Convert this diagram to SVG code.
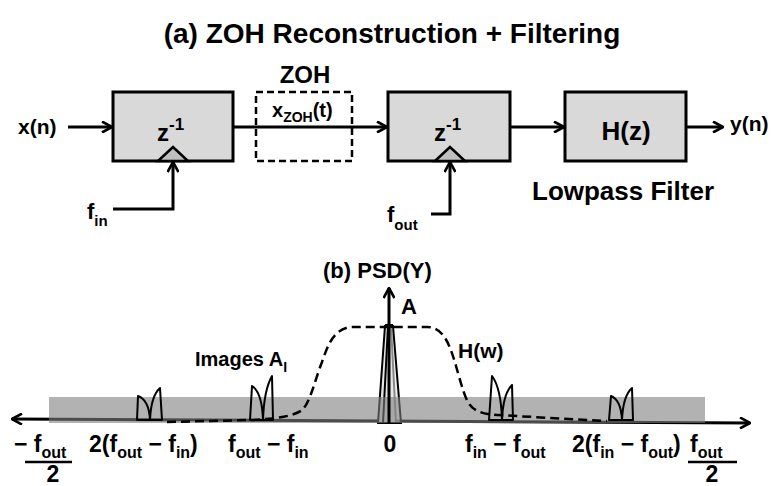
<svg xmlns="http://www.w3.org/2000/svg" width="771" height="486" viewBox="0 0 771 486">
<defs>
<style>
text{font-family:"Liberation Sans",Arial,sans-serif;font-weight:bold;fill:#000}
.blk{fill:#d9d9d9;stroke:#000;stroke-width:3}
.clk{fill:#bfbfbf;stroke:#000;stroke-width:2.5;stroke-linejoin:miter}
.wire{fill:none;stroke:#000;stroke-width:3}
.img{fill:none;stroke:#000;stroke-width:2;stroke-linejoin:round}
</style>
<marker id="arr" viewBox="0 0 12 12" refX="11" refY="6" markerWidth="12" markerHeight="12" markerUnits="userSpaceOnUse" orient="auto-start-reverse">
<path d="M1,0.5 L11,6 L1,11.5" fill="none" stroke="#000" stroke-width="2.6"/>
</marker>
</defs>
<rect width="771" height="486" fill="#fff"/>
<text x="392" y="43" text-anchor="middle" font-size="28">(a) ZOH Reconstruction + Filtering</text>

<g id="delay1">
<rect class="blk" x="113" y="92" width="120" height="69"/>
<polygon class="clk" points="158,161 173,147 188,161"/>
<text x="157" y="141" font-size="24">z<tspan dy="-11" font-size="17">-1</tspan></text>
</g>
<g id="zoh">
<text x="305" y="83" text-anchor="middle" font-size="24">ZOH</text>
<rect x="256" y="92" width="96" height="69" fill="none" stroke="#000" stroke-width="2.5" stroke-dasharray="7,4"/>
<text x="272" y="117" font-size="20">x<tspan dy="5" font-size="14">ZOH</tspan><tspan dy="-5">(t)</tspan></text>
</g>
<g id="delay2">
<rect class="blk" x="388" y="92" width="122" height="69"/>
<polygon class="clk" points="435,161 450,147 465,161"/>
<text x="434" y="141" font-size="24">z<tspan dy="-11" font-size="17">-1</tspan></text>
</g>
<g id="filter">
<rect class="blk" x="565" y="92" width="121" height="69"/>
<text x="626" y="140" text-anchor="middle" font-size="26">H(z)</text>
<text x="532" y="200" font-size="26">Lowpass Filter</text>
</g>
<g id="labels-a">
<text x="18" y="134" font-size="21">x(n)</text>
<text x="730" y="131" font-size="21">y(n)</text>
<text x="87" y="219" font-size="22">f<tspan dy="7" font-size="15">in</tspan></text>
<text x="387" y="222" font-size="22">f<tspan dy="8" font-size="15">out</tspan></text>
</g>
<g id="connectors">
<path class="wire" d="M68,127 L112,127" marker-end="url(#arr)"/>
<path class="wire" d="M113,209 L173,209 L173,162" marker-end="url(#arr)"/>
<path class="wire" d="M233,127 L387,127" marker-end="url(#arr)"/>
<path class="wire" d="M431,214 L450,214 L450,162" marker-end="url(#arr)"/>
<path class="wire" d="M510,127 L564,127" marker-end="url(#arr)"/>
<path class="wire" d="M686,127 L723,127" marker-end="url(#arr)"/>
</g>

<g id="psd">
<text x="323" y="278" font-size="22">(b) PSD(Y)</text>
<path class="wire" d="M12,419 L750,423" marker-start="url(#arr)" marker-end="url(#arr)"/>
<g id="signal">
<polygon points="378,423 385,326 391,326 396,423" fill="#e6e6e6" stroke="#000" stroke-width="2"/>
<polygon points="383,423 388,326 393,326 401,423" fill="#e6e6e6" fill-opacity="0.6" stroke="#000" stroke-width="2"/>
<rect x="385" y="324" width="8" height="4" fill="#000"/>
</g>
<rect id="band" x="49" y="397" width="656" height="26" fill="#7f7f7f" fill-opacity="0.6"/>
<g id="images">
<path class="img" d="M137,420 L138,396 Q149,400 150,420 Q151,396 160,388 L162,420 Z"/>
<path class="img" d="M250,420 L252,386 Q262,392 263,420 Q264,390 272,376 L273,420 Z"/>
<path class="img" d="M489,420 L492,376 Q501,388 502,420 Q503,394 512,385 L513,420 Z"/>
<path class="img" d="M609,420 L611,396 Q621,400 622,420 Q623,396 632,388 L633,420 Z"/>
</g>
<path id="hw" d="M167,422 L250,420 C275,419 295,416 302,410 C310,403 315,380 322,362 C328,345 333,330 350,327 L427,327 C440,327 446,338 450,348 C456,362 462,392 468,402 C473,411 482,414 497,415 L607,421" fill="none" stroke="#000" stroke-width="2.5" stroke-dasharray="9,5"/>
<path class="wire" d="M389,423 L389,288" marker-end="url(#arr)"/>
<text x="401" y="314" font-size="22">A</text>
<text x="458" y="358" font-size="21">H(w)</text>
<text x="195" y="366" font-size="20">Images A<tspan dy="6" font-size="14">I</tspan></text>
</g>

<g id="axis-labels">
<text x="14" y="452" font-size="23">− f<tspan dy="6" font-size="16">out</tspan></text>
<line x1="25" y1="462" x2="72" y2="462" stroke="#000" stroke-width="2.5"/>
<text x="53" y="482" text-anchor="middle" font-size="23">2</text>
<text x="89" y="452" font-size="23">2(f<tspan dy="6" font-size="16">out</tspan><tspan dy="-6"> − f</tspan><tspan dy="6" font-size="16">in</tspan><tspan dy="-6">)</tspan></text>
<text x="228" y="452" font-size="23">f<tspan dy="6" font-size="16">out</tspan><tspan dy="-6"> − f</tspan><tspan dy="6" font-size="16">in</tspan></text>
<text x="390" y="452" text-anchor="middle" font-size="23">0</text>
<text x="465" y="452" font-size="23">f<tspan dy="6" font-size="16">in</tspan><tspan dy="-6"> − f</tspan><tspan dy="6" font-size="16">out</tspan></text>
<text x="572" y="452" font-size="23">2(f<tspan dy="6" font-size="16">in</tspan><tspan dy="-6"> − f</tspan><tspan dy="6" font-size="16">out</tspan><tspan dy="-6">)</tspan></text>
<text x="690" y="452" font-size="23">f<tspan dy="6" font-size="16">out</tspan></text>
<line x1="688" y1="462" x2="737" y2="462" stroke="#000" stroke-width="2.5"/>
<text x="712" y="482" text-anchor="middle" font-size="23">2</text>
</g>
</svg>
